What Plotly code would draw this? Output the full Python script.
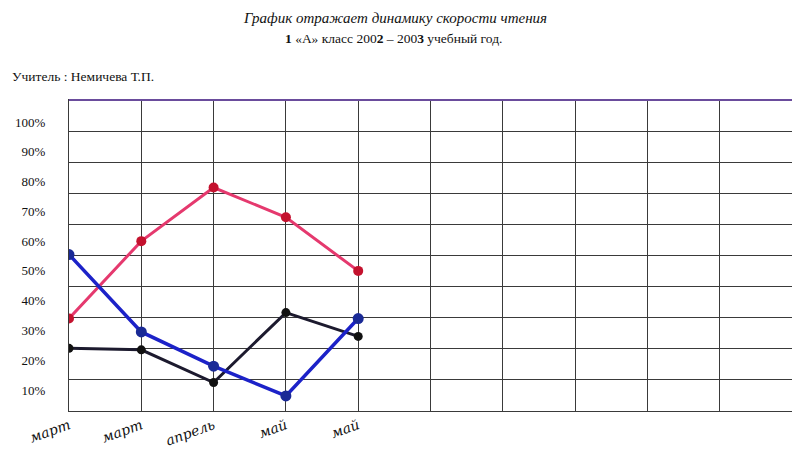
import plotly.graph_objects as go

months = ["март", "март", "апрель", "май", "май"]
red_vals = [34, 60, 78, 68, 50]
blue_vals = [55.5, 29.5, 18, 8, 34]
black_vals = [24, 23.5, 12.5, 36, 28]
y_labels = [10, 20, 30, 40, 50, 60, 70, 80, 90, 100]

x_pos = list(range(len(months)))
n_cols = 10
v_bot, v_top = 2.95, 107.4
grid_vals = [v_bot + k * (v_top - v_bot) / 10 for k in range(11)]

OFF = 8  # page body margin
W, H = 800 - OFF, 451 - OFF
L, R, T, B = 69 - OFF, W - (792 - OFF), 100 - OFF, H - (411 - OFF)
PW = W - L - R

fig = go.Figure()
fig.add_trace(go.Scatter(x=[None], y=[None], yaxis="y2", showlegend=False))
fig.add_trace(go.Scatter(x=x_pos, y=red_vals, mode="lines+markers",
                         line=dict(color="#e5396e", width=3),
                         marker=dict(color="#c4122e", size=10), yaxis="y"))
fig.add_trace(go.Scatter(x=x_pos, y=black_vals, mode="lines+markers",
                         line=dict(color="#1c1a2e", width=3),
                         marker=dict(color="#111111", size=9), yaxis="y"))
fig.add_trace(go.Scatter(x=x_pos, y=blue_vals, mode="lines+markers",
                         line=dict(color="#1c22c8", width=3.5),
                         marker=dict(color="#1a2a96", size=11), yaxis="y"))

fig.update_layout(
    width=W, height=H,
    paper_bgcolor="white", plot_bgcolor="white",
    showlegend=False,
    margin=dict(l=L, r=R, t=T, b=B, autoexpand=False),
    font=dict(family="Liberation Serif", color="#111"),
    xaxis=dict(range=[0, n_cols], tickmode="array", automargin=False,
               tickvals=list(range(n_cols + 1)),
               ticktext=months + [""] * (n_cols + 1 - len(months)),
               tickangle=-20, showgrid=True, gridcolor="#3a3a3a", gridwidth=1,
               showline=True, linecolor="#3a3a3a", linewidth=1, mirror=True,
               zeroline=False, ticks="",
               tickfont=dict(family="DejaVu Serif", size=14, style="italic", color="#111")),
    yaxis=dict(range=[v_bot, v_top], tickmode="array", tickvals=y_labels, automargin=False,
               ticktext=[f"{v}%" for v in y_labels], showgrid=False,
               zeroline=False, showline=True, linecolor="#3a3a3a", ticks="",
               ticklabelstandoff=20,
               tickfont=dict(family="Liberation Serif", size=13, color="#111")),
    yaxis2=dict(range=[v_bot, v_top], overlaying="y", side="left", automargin=False,
                tickmode="array", tickvals=grid_vals, showticklabels=False,
                showgrid=True, gridcolor="#3a3a3a", gridwidth=1, zeroline=False),
    shapes=[dict(type="line", xref="paper", yref="paper", x0=0, x1=1, y0=1, y1=1,
                 line=dict(color="#6a4c9c", width=2))],
    annotations=[
        dict(text="<i>График отражает динамику скорости чтения</i>", xref="paper", yref="paper",
             x=(395 - 69) / PW, xanchor="center", y=1, yanchor="middle", yshift=100 - 18,
             showarrow=False, font=dict(family="Liberation Serif", size=15, color="#111")),
        dict(text="<b>1</b> «А» класс 200<b>2</b> – 200<b>3</b> учебный год.", xref="paper", yref="paper",
             x=(393 - 69) / PW, xanchor="center", y=1, yanchor="middle", yshift=100 - 38,
             showarrow=False, font=dict(family="Liberation Serif", size=13.5, color="#111")),
        dict(text="Учитель : Немичева Т.П.", xref="paper", yref="paper",
             x=(10 - 69) / PW, xanchor="left", y=1, yanchor="middle", yshift=100 - 76,
             showarrow=False, font=dict(family="Liberation Serif", size=13.5, color="#111")),
    ],
)
fig.write_html("out.html")
